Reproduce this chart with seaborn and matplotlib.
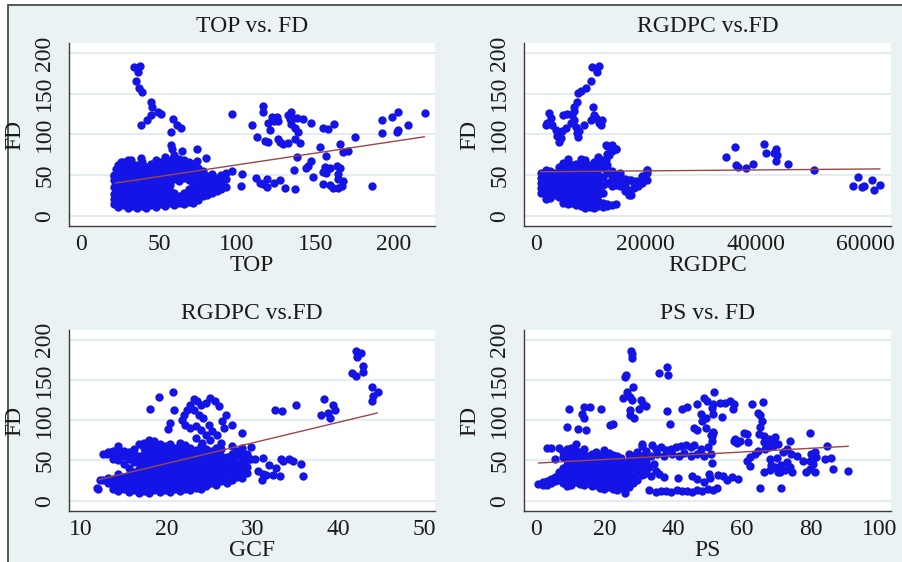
import numpy as np
import pandas as pd
import matplotlib.pyplot as plt
import seaborn as sns
from matplotlib.patches import Rectangle

# ---- TOP vs FD ----
# dense block read column by column: TOP value -> FD values
top_block = {
    21: [14, 20, 27, 35, 44, 50],
    24: [11, 18, 24, 31, 38, 47, 55, 62],
    27: [13, 20, 28, 36, 42, 50, 58, 66],
    30: [10, 16, 24, 32, 40, 46, 54, 61, 68],
    33: [12, 19, 27, 35, 43, 51, 58, 64],
    36: [9, 15, 22, 30, 38, 47, 55, 62],
    39: [12, 18, 26, 34, 42, 50, 58, 66],
    42: [10, 17, 24, 31, 39, 46, 53, 60],
    45: [13, 20, 28, 36, 44, 51, 57, 64],
    48: [11, 18, 25, 33, 41, 48, 55, 62, 69],
    51: [14, 21, 29, 37, 45, 52, 59, 66],
    54: [12, 19, 26, 34, 43, 50, 57, 64, 72],
    57: [15, 23, 30, 38, 46, 53, 61, 68],
    60: [13, 20, 28, 45, 52, 60, 66, 74],
    63: [16, 24, 43, 50, 57, 64, 70],
    66: [14, 21, 28, 46, 54, 62, 69],
    69: [17, 25, 33, 44, 52, 60, 66],
    72: [15, 22, 30, 38, 48, 56, 64],
    75: [19, 27, 35, 42, 50, 58],
    78: [24, 31, 40, 47, 55],
    81: [26, 33, 42, 49],
    84: [28, 36, 44, 51],
    87: [30, 38, 46],
    90: [33, 42, 50],
    93: [35, 45, 52],
}
top_other = [
    (34.1, 182.8), (37.7, 184.4), (36.9, 176.2), (35.2, 165.2), (37.3, 157.0),
    (39.0, 151.7), (44.8, 139.4), (45.8, 133.7), (49.7, 127.1), (51.2, 124.7),
    (44.8, 124.2), (42.6, 117.4), (38.4, 110.9), (59.1, 118.9), (61.8, 110.9),
    (64.0, 108.0), (57.6, 102.7), (57.6, 87.5), (58.6, 81.5), (65.0, 79.4),
    (74.6, 82.3), (79.9, 71.2), (74.6, 67.2), (38.4, 71.2), (32.0, 68.3),
    (25.6, 65.9), (22.4, 56.9), (21.3, 48.7), (97.0, 54.8), (103.4, 50.7),
    (102.3, 36.4), (111.9, 46.6), (97.0, 125.2), (109.4, 111.3), (113.0, 96.9),
    (116.9, 134.5), (116.9, 127.4), (122.2, 121.3), (125.4, 121.3), (126.5, 116.0),
    (123.9, 116.0), (120.0, 114.0), (121.1, 105.8), (132.5, 124.2), (134.6, 127.1),
    (133.6, 118.9), (135.7, 120.1), (134.6, 113.2), (138.2, 120.1), (142.5, 118.9),
    (147.4, 114.0), (137.2, 107.4), (139.3, 102.5), (137.2, 94.3), (140.4, 88.9),
    (117.9, 91.8), (120.0, 91.0), (126.5, 94.7), (127.5, 90.6), (129.7, 87.8),
    (132.9, 89.8), (155.2, 108.2), (158.0, 107.0), (162.3, 112.3), (153.1, 84.6),
    (166.2, 88.3), (175.5, 97.0), (157.0, 73.2), (168.0, 78.1), (171.2, 79.4),
    (138.4, 72.0), (147.4, 67.2), (145.3, 61.3), (144.3, 59.1), (136.2, 56.3),
    (148.8, 47.5), (156.3, 60.2), (159.5, 59.0), (163.7, 61.1), (165.9, 58.0),
    (156.7, 52.3), (155.2, 53.1), (164.8, 51.8), (164.4, 44.9), (168.0, 42.8),
    (155.2, 38.4), (159.5, 37.6), (161.6, 34.3), (164.4, 33.5), (167.4, 35.9),
    (186.2, 36.8), (137.2, 32.7), (130.8, 33.5), (119.0, 44.9), (116.9, 38.8),
    (114.7, 40.0), (119.0, 35.5), (123.9, 40.5), (127.5, 43.8), (192.6, 118.1),
    (199.0, 121.3), (203.3, 127.1), (220.4, 126.2), (209.7, 111.9), (203.3, 105.8),
    (202.2, 102.5), (192.6, 101.7),
]
top_fit = [(22, 40), (220, 97)]

# ---- RGDPC vs FD ----
rgdpc_block = {
    1000: [28, 34, 40, 46, 52],
    1800: [20, 26, 33, 39, 45, 52, 56],
    2600: [22, 29, 36, 43, 50, 55],
    3400: [25, 31, 38, 44, 52],
    4200: [23, 30, 37, 45, 53, 60],
    5000: [15, 21, 28, 35, 42, 50, 58, 65],
    5800: [14, 20, 27, 34, 42, 50, 58, 66, 70],
    6600: [16, 22, 30, 38, 46, 54, 62],
    7400: [13, 19, 26, 33, 41, 49, 57, 64],
    8200: [12, 18, 25, 32, 40, 48, 56, 63, 70],
    9000: [10, 15, 22, 30, 38, 46, 54, 61, 68],
    9800: [11, 17, 24, 31, 39, 47, 55, 62],
    10600: [10, 16, 23, 30, 37, 45, 53, 60, 66],
    11400: [12, 18, 26, 34, 42, 50, 57, 64, 72],
    12200: [11, 15, 28, 38, 48, 58, 68],
    13000: [12, 14, 40, 52, 62, 76, 86],
    13800: [13, 36, 45, 55, 80, 87],
    14600: [14, 38, 48, 82],
    15400: [36, 44, 52],
    16200: [30, 38, 45],
    17000: [26, 32, 44],
    17800: [34, 40],
    18600: [36, 42],
    19400: [40, 46],
    20200: [44, 52, 56],
}
rgdpc_other = [
    (10297, 182.8), (11509, 184.4), (11206, 176.2), (9994, 165.2), (9085, 157),
    (8297, 152.9), (7690, 150.8), (7449, 139.4), (6963, 133.7), (5751, 125.5),
    (5024, 124.2), (2418, 126.3), (2721, 120.1), (2115, 114), (1812, 110.9),
    (3024, 112), (3630, 105.1), (3933, 97.7), (4236, 90.3), (4842, 103.9),
    (5448, 108), (6357, 114.1), (6963, 118.2), (7266, 109.2), (7569, 101.8),
    (6660, 124.2), (6963, 128.4), (10479, 133.7), (10600, 124.2), (10903, 120.1),
    (11509, 114), (9994, 118.2), (8782, 112), (7872, 103.9), (7751, 96.9),
    (4539, 95.5), (12000, 118), (11800, 112),
    (12721, 87.3), (13630, 85.3), (14539, 82.0), (13327, 75), (12721, 69),
    (14236, 50.5), (15448, 46.4), (17266, 44.3), (16054, 40.2), (18176, 42.3),
    (19388, 48.4), (20297, 56.6), (16660, 32), (17266, 26), (19085, 40), (19691, 44),
    (34600, 72), (36236, 85), (36418, 62.7), (36836, 59.8), (38236, 58.6),
    (39455, 63.5), (41564, 88.5), (41873, 77), (43382, 77), (43690, 82),
    (43873, 75), (43690, 67.6), (45927, 64), (50545, 56.6), (57636, 36),
    (58655, 47.5), (59273, 35.2), (59745, 36.9), (61091, 44.3), (61564, 31),
    (62655, 38),
]
rgdpc_fit = [(800, 54), (62600, 57.5)]

# ---- GCF vs FD ----
gcf_block = {
    12.0: [15],
    12.6: [26, 58],
    13.2: [22, 28, 60],
    13.8: [14, 20, 27, 52, 62],
    14.4: [12, 18, 25, 33, 50, 57, 64, 68],
    15.0: [15, 22, 30, 45, 55, 62],
    15.6: [11, 17, 24, 32, 40, 52, 60],
    16.2: [13, 20, 28, 36, 48, 56, 64, 58],
    16.8: [10, 16, 23, 31, 39, 47, 55, 70],
    17.4: [12, 19, 26, 34, 42, 50, 58, 66, 72],
    18.0: [10, 15, 22, 30, 38, 46, 54, 62, 70, 76],
    18.6: [13, 19, 27, 35, 43, 51, 59, 67, 74],
    19.2: [11, 17, 24, 32, 40, 48, 56, 64, 71],
    19.8: [13, 20, 28, 36, 44, 52, 60, 68],
    20.4: [11, 16, 23, 31, 39, 47, 55, 63, 70],
    21.0: [14, 20, 27, 35, 43, 51, 59, 66],
    21.6: [12, 18, 25, 33, 41, 49, 57, 65, 72],
    22.2: [15, 22, 30, 38, 46, 54, 62, 69],
    22.8: [13, 19, 27, 35, 43, 51, 59, 66],
    23.4: [16, 23, 31, 39, 47, 55, 63],
    24.0: [14, 20, 28, 36, 44, 52, 60, 68],
    24.6: [18, 25, 33, 41, 49, 57, 64],
    25.2: [22, 30, 38, 46, 54, 62],
    25.8: [20, 27, 35, 43, 51, 59, 66],
    26.4: [24, 32, 40, 48, 56, 64, 72],
    27.0: [22, 30, 38, 46, 54],
    27.6: [26, 34, 42, 50, 58, 68],
    28.2: [30, 38, 46, 55, 62],
    28.8: [28, 36, 44, 52, 60, 66],
    29.4: [34, 42, 50, 58],
}
gcf_other = [
    (20.8, 134.7), (19.1, 128.4), (18.1, 114.0), (20.9, 113.2), (20.2, 89.5),
    (20.4, 97.0), (23.2, 126.7), (23.6, 123.4), (22.8, 119.3), (22.4, 113.1),
    (22.0, 106.1), (21.8, 100.7), (22.2, 94.5), (22.8, 90.4), (23.4, 92.4),
    (24.0, 88.3), (24.6, 82.1), (25.3, 86.2), (24.9, 94.5), (24.3, 102.7),
    (23.8, 106.9), (23.2, 113.1), (24.0, 119.3), (24.6, 121.4), (25.1, 127.6),
    (25.7, 123.4), (26.1, 117.2), (26.9, 106.9), (26.5, 98.6), (27.6, 94.5),
    (26.7, 90.4), (25.9, 82.1), (25.1, 75.9), (24.2, 71.8), (23.4, 77.9),
    (28.8, 83.7), (11.9, 15.6), (12.3, 26.1), (13.1, 58.1), (13.5, 60.5),
    (29.9, 66.3), (29.9, 51.2), (30.3, 51.2), (31.2, 53.2), (31.9, 44.8),
    (33.4, 51.2), (33.6, 49.1), (34.3, 51.2), (34.7, 49.1), (35.7, 45.8),
    (35.9, 30.6), (32.8, 40.5), (32.4, 32.3), (33.2, 30.6), (31.2, 33.1),
    (30.7, 36.5), (31.1, 26.1), (31.6, 32.3),
    (32.6, 113.0), (33.5, 111.0), (35.1, 118.4), (38.4, 126.3), (38.0, 106.1),
    (38.8, 108.7), (39.4, 118.4), (39.6, 112.2), (39.1, 102.4), (42.1, 186.4),
    (42.7, 183.4), (42.2, 178.0), (41.6, 158.6), (42.1, 154.5), (42.9, 166.9),
    (42.9, 159.5), (43.9, 141.0), (44.6, 135.3), (44.1, 130.0), (44.0, 124.3),
]
gcf_fit = [(12.1, 26), (44.6, 109)]

# ---- PS vs FD ----
ps_block = {
    0.8: [21],
    2.0: [20, 23],
    3.2: [19, 24, 66],
    4.4: [22, 27, 66],
    5.6: [24, 29, 52],
    6.8: [26, 31, 36, 66],
    8.0: [22, 28, 34, 40, 54, 60],
    9.2: [18, 25, 31, 37, 44, 50, 57, 64],
    10.4: [20, 27, 33, 39, 46, 52, 59, 66],
    11.6: [23, 29, 36, 42, 48, 55, 62, 71],
    12.8: [21, 27, 34, 41, 47, 53, 60],
    14.0: [19, 25, 32, 38, 45, 51, 57, 64],
    15.2: [22, 28, 35, 42, 49, 55],
    16.4: [18, 24, 31, 38, 44, 51, 58],
    17.6: [20, 27, 33, 40, 47, 54, 61],
    18.8: [16, 23, 30, 36, 43, 50, 57],
    20.0: [14, 21, 28, 35, 42, 49, 56, 63],
    21.2: [17, 24, 31, 38, 45, 52, 59],
    22.4: [15, 22, 29, 36, 43, 50, 57],
    23.6: [13, 20, 27, 34, 41, 48, 55],
    24.8: [16, 23, 30, 38, 46, 53],
    26.0: [10, 14, 21, 29, 37, 45],
    27.2: [17, 25, 33, 42, 50, 58],
    28.4: [22, 30, 40, 48, 56],
    29.6: [26, 36, 45, 60],
    30.8: [32, 42, 55, 70],
    32.0: [38, 48, 62],
}
ps_other = [
    (27.6, 186.4), (28.1, 182.3), (27.9, 177.3), (26.2, 156.6), (26.0, 153.3),
    (28.4, 141.3), (26.5, 135.6), (25.5, 127.3), (27.5, 128.2), (28.1, 124.9),
    (30.6, 124.9), (31.3, 120.7), (32.0, 117.8), (30.0, 113.7), (27.5, 112.4),
    (27.5, 106.6), (28.7, 103.3), (35.9, 159.0), (38.1, 166.0), (38.5, 156.0),
    (38.1, 111.6), (39.1, 95.0), (42.5, 113.7), (43.9, 115.8), (9.7, 113.7),
    (14.0, 115.8), (15.8, 115.8), (13.4, 107.5), (14.0, 102.5), (19.1, 113.7),
    (9.2, 91.2), (12.3, 89.5), (14.6, 88.3), (21.6, 93.7), (22.6, 95.4),
    (47.0, 120.1), (49.0, 127.6), (49.8, 124.3), (48.0, 107.5), (49.5, 103.3),
    (48.5, 98.4), (47.0, 88.2), (49.5, 90.3), (50.9, 82.1), (46.1, 90.3),
    (51.5, 84.0), (51.2, 80.0),
    (30.8, 67.6), (33.7, 69.6), (35.0, 64.6), (36.4, 66.3), (37.9, 63.4),
    (39.3, 64.6), (40.8, 66.3), (42.2, 67.6), (43.7, 68.8), (45.1, 66.3),
    (46.1, 68.8), (48.0, 64.6), (50.0, 66.3), (32.0, 58.3), (33.5, 55.5),
    (35.4, 58.3), (37.3, 55.5), (39.8, 58.3), (41.7, 55.5), (43.1, 59.5),
    (45.1, 55.5), (47.0, 58.3), (48.9, 55.5), (50.9, 58.3), (29.6, 51.8),
    (31.5, 49.7), (32.9, 41.4), (34.4, 45.5), (34.9, 37.3), (35.9, 33.1),
    (37.3, 29.0), (31.5, 33.1), (33.5, 31.0), (41.3, 28.2), (45.5, 31.0),
    (47.0, 26.9), (48.9, 22.8), (50.4, 33.1),
    (33.0, 13.0), (35.0, 11.0), (36.5, 12.0), (38.0, 12.5), (39.5, 11.0),
    (41.0, 13.0), (42.5, 11.5), (44.0, 12.0), (45.5, 11.0), (47.0, 13.5),
    (48.5, 12.0), (50.0, 14.0),
    (50.7, 28.0), (53.1, 32.3), (54.6, 30.2), (55.6, 26.1), (57.0, 29.0),
    (59.0, 27.3), (52.7, 15.4), (51.7, 13.3), (51.2, 46.6),
    (51.9, 135.0), (51.2, 115.6), (51.7, 119.7), (53.7, 121.8), (55.1, 121.8),
    (56.6, 123.8), (57.6, 120.5), (57.4, 113.5), (54.1, 103.7), (51.7, 108.0),
    (62.9, 119.7), (66.1, 122.9), (64.8, 109.0), (65.3, 106.6), (65.8, 99.5),
    (65.3, 91.2), (65.1, 83.0), (66.3, 80.9), (51.5, 85.8), (51.2, 74.6),
    (58.1, 76.7), (59.5, 74.6), (60.5, 84.1), (61.5, 82.9), (61.9, 72.5),
    (58.6, 71.7), (57.6, 74.6), (79.7, 84.6),
    (66.3, 72.5), (67.8, 76.7), (68.7, 74.6), (69.7, 78.7), (70.6, 70.5),
    (69.2, 68.4), (67.8, 66.3), (74.0, 74.6), (73.0, 64.3), (72.0, 60.2),
    (74.4, 58.1), (76.1, 56.0), (77.8, 49.9), (64.8, 62.3), (63.9, 58.1),
    (62.4, 54.0), (61.5, 49.9), (62.4, 43.7), (66.8, 64.3), (68.3, 51.8),
    (66.3, 36.2), (68.3, 38.7), (69.7, 41.6), (71.1, 36.2), (72.6, 38.7),
    (74.0, 41.6), (74.5, 35.4), (73.0, 47.8), (71.5, 44.5), (68.6, 44.5),
    (70.1, 52.8), (70.6, 35.4), (65.3, 15.6), (71.4, 15.6),
    (78.8, 35.4), (79.7, 39.5), (81.2, 35.4), (80.7, 45.7), (79.7, 49.9),
    (81.5, 54.0), (81.2, 60.2), (80.2, 58.1), (80.7, 51.8),
    (84.7, 67.4), (84.2, 52.4), (85.9, 53.6), (86.4, 39.1), (91.0, 37.1),
]
ps_fit = [(0.8, 46.8), (91.0, 67.6)]

BLUE = "#1414e6"
FIT = "#9c4646"
BG = "#eaf2f3"
FD_TICKS = [0, 50, 100, 150, 200]


def to_frame(block, other):
    pts = [(x, y) for x, ys in block.items() for y in ys] + list(other)
    return pd.DataFrame(pts, columns=["x", "FD"])


panels = [
    ("TOP vs. FD", "TOP", to_frame(top_block, top_other), top_fit,
     [0, 50, 100, 150, 200], (-7.5, 226.7), (-12.7, 212.3),
     [69 / 902, 1 - 226 / 562, 366 / 902, 183 / 562]),
    ("RGDPC vs.FD", "RGDPC", to_frame(rgdpc_block, rgdpc_other), rgdpc_fit,
     [0, 20000, 40000, 60000], (-2127, 64600), (-12.7, 212.3),
     [524 / 902, 1 - 226 / 562, 367 / 902, 183 / 562]),
    ("RGDPC vs.FD", "GCF", to_frame(gcf_block, gcf_other), gcf_fit,
     [10, 20, 30, 40, 50], (8.64, 51.3), (-12.8, 212.0),
     [69 / 902, 1 - 511 / 562, 366 / 902, 181 / 562]),
    ("PS vs. FD", "PS", to_frame(ps_block, ps_other), ps_fit,
     [0, 20, 40, 60, 80, 100], (-3.41, 103.4), (-12.8, 212.0),
     [524 / 902, 1 - 511 / 562, 367 / 902, 181 / 562]),
]

sns.set_theme(style="white")
plt.rcParams["font.family"] = ["Liberation Serif", "DejaVu Serif"]

fig = plt.figure(figsize=(9.02, 5.62), dpi=100, facecolor="white")
# stata-like outer frame
fig.patches.append(Rectangle((8 / 902, -0.02), 1.0, 1 - 5 / 562 + 0.02,
                             transform=fig.transFigure, facecolor=BG,
                             edgecolor="#4a4a4a", lw=1.3, zorder=-5))

FS = 17
for title, xlab, df, fit, xticks, xlim, ylim, rect in panels:
    ax = fig.add_axes(rect)
    ax.set_facecolor("white")
    sns.scatterplot(data=df, x="x", y="FD", ax=ax, color=BLUE, s=36,
                    linewidth=0, zorder=3)
    fdf = pd.DataFrame(fit, columns=["x", "FD"])
    sns.lineplot(data=fdf, x="x", y="FD", ax=ax, color=FIT, lw=1.0, zorder=4)

    ax.set_xlim(*xlim)
    ax.set_ylim(*ylim)
    ax.set_xticks(xticks)
    ax.set_yticks(FD_TICKS)
    ax.set_xticklabels([str(t) for t in xticks])
    ax.set_yticklabels([str(t) for t in FD_TICKS], rotation=90, va="center")
    ax.yaxis.grid(True, color="#e3edef", lw=1.4)
    ax.xaxis.grid(False)
    ax.set_axisbelow(True)

    for s in ["top", "right"]:
        ax.spines[s].set_visible(False)
    for s in ["left", "bottom"]:
        ax.spines[s].set_color("#3c3c3c")
        ax.spines[s].set_linewidth(1.0)
    ax.tick_params(axis="both", direction="out", length=5, width=1,
                   color="#3c3c3c", labelsize=FS, labelcolor="#1a1a1a")
    ax.tick_params(axis="x", pad=1)
    ax.tick_params(axis="y", pad=5)

    ax.set_title(title, fontsize=FS, pad=8, color="#1a1a1a")
    ax.set_xlabel(xlab, fontsize=FS, labelpad=0, color="#1a1a1a")
    ax.set_ylabel("FD", fontsize=FS, labelpad=6, color="#1a1a1a")

fig.savefig("out.png", dpi=100, facecolor=fig.get_facecolor())
